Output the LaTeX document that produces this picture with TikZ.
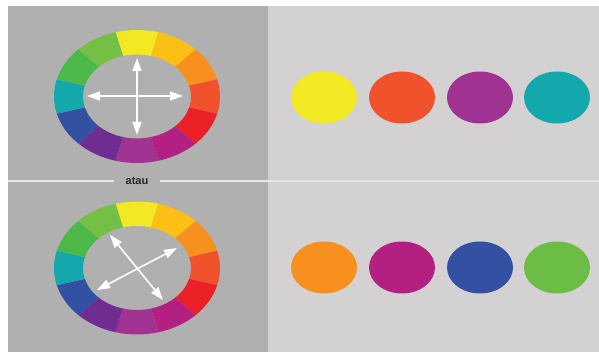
\documentclass[tikz,border=0pt]{standalone}
\usepackage{fontspec}
\setmainfont{Liberation Sans}
\usetikzlibrary{arrows.meta,shapes.geometric,calc}
\definecolor{panelL}{HTML}{B0B0B0}
\definecolor{panelR}{HTML}{D3D1D2}
\definecolor{sepline}{HTML}{E6E6E6}
\definecolor{cA}{HTML}{F2E823}
\definecolor{cB}{HTML}{FCC014}
\definecolor{cC}{HTML}{F7901E}
\definecolor{cD}{HTML}{F0532B}
\definecolor{cE}{HTML}{EC2027}
\definecolor{cF}{HTML}{B41F82}
\definecolor{cG}{HTML}{A03291}
\definecolor{cH}{HTML}{6F2C91}
\definecolor{cI}{HTML}{3450A2}
\definecolor{cJ}{HTML}{13A8AC}
\definecolor{cK}{HTML}{4CB848}
\definecolor{cL}{HTML}{74C044}
\definecolor{swGreen}{HTML}{6CBD45}
\tikzset{
  swatch/.style={ellipse, minimum width=66pt, minimum height=52pt, inner sep=0pt, draw=none},
  dblarrow/.style={white, line width=1.6pt, {Triangle[length=13pt,width=9pt]}-{Triangle[length=13pt,width=9pt]}},
  sep/.style={sepline, line width=2.5pt},
}
\newcommand{\colorwheel}[2]{%
  \foreach \ang/\col in {90/cA,60/cB,30/cC,0/cD,-30/cE,-60/cF,-90/cG,-120/cH,-150/cI,180/cJ,150/cK,120/cL}{%
    \pgfmathsetmacro{\aa}{\ang-15}\pgfmathsetmacro{\ab}{\ang+15}%
    \fill[\col] (#1,#2) ++(\aa:83pt and 66.5pt) arc[start angle=\aa, end angle=\ab, x radius=83pt, y radius=66.5pt]
      -- ($(#1,#2)+(\ab:54pt and 42pt)$) arc[start angle=\ab, end angle=\aa, x radius=54pt, y radius=42pt] -- cycle;
  }%
}
\begin{document}
\begin{tikzpicture}[x=1pt,y=1pt]
\useasboundingbox (0,0) rectangle (599,352);
\fill[white] (0,0) rectangle (599,352);
\fill[panelL] (8,0) rectangle (268,346);
\fill[panelR] (268,0) rectangle (599,346);
% separator line
\draw[sep] (8,171) -- (599,171);
\node[fill=panelL, inner xsep=12pt, inner ysep=2pt, text=black!85, font=\bfseries\fontsize{11}{13}\selectfont] (atau) at (137,171) {atau};
% wheels
\colorwheel{137}{255.5}
\colorwheel{137}{84}
% top arrows
\coordinate (tT) at (137,294);
\coordinate (tB) at (137,217);
\coordinate (tL) at (87,256);
\coordinate (tR) at (183,256);
\draw[dblarrow] (tT) -- (tB);
\draw[dblarrow] (tL) -- (tR);
% bottom arrows
\coordinate (bA) at (110,117);
\coordinate (bB) at (163,52);
\coordinate (bC) at (97,62);
\coordinate (bD) at (177,104);
\draw[dblarrow] (bA) -- (bB);
\draw[dblarrow] (bC) -- (bD);
% swatches top
\node[swatch, fill=cA] (s1) at (324,254.5) {};
\node[swatch, fill=cD] (s2) at (402,254.5) {};
\node[swatch, fill=cG] (s3) at (480,254.5) {};
\node[swatch, fill=cJ] (s4) at (557,254.5) {};
% swatches bottom
\node[swatch, fill=cC] (s5) at (324,84.5) {};
\node[swatch, fill=cF] (s6) at (402,84.5) {};
\node[swatch, fill=cI] (s7) at (480,84.5) {};
\node[swatch, fill=swGreen] (s8) at (557,84.5) {};
\end{tikzpicture}
\end{document}
